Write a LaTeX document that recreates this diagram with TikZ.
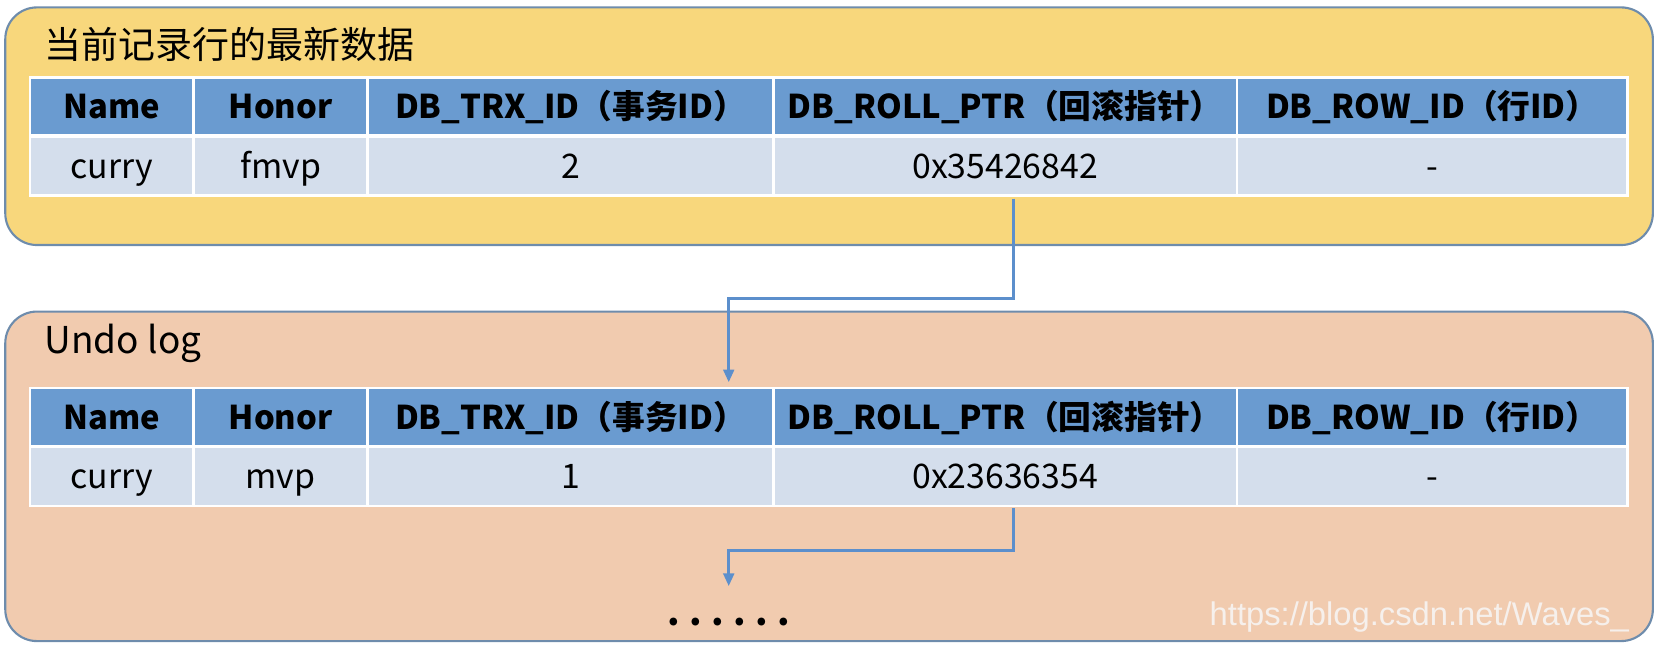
\documentclass[tikz,border=0pt]{standalone}
\usepackage{fontspec}
\setmainfont{Noto Sans CJK SC}
\newfontfamily\urlfont{Liberation Sans}
\usetikzlibrary{arrows.meta}

\definecolor{boxline}{RGB}{110,140,172}
\definecolor{newfill}{RGB}{248,215,124}
\definecolor{undofill}{RGB}{241,203,175}
\definecolor{headfill}{RGB}{106,155,208}
\definecolor{cellfill}{RGB}{212,222,236}
\definecolor{ptrline}{RGB}{92,143,204}
\definecolor{markgray}{RGB}{246,240,236}

\tikzset{
  panel/.style={draw=boxline, line width=1pt, rounded corners=15pt},
  panelname/.style={anchor=west, inner sep=0pt, font=\fontsize{17.5}{20}\selectfont},
  cell/.style={anchor=north west, inner sep=0pt, draw=white, line width=1.2pt,
    text height=11.5pt, text depth=0pt, font=\fontsize{16}{19}\selectfont},
  headcell/.style={cell, fill=headfill, minimum height=27.5pt, font=\fontsize{15.5}{19}\selectfont\bfseries},
  datacell/.style={cell, fill=cellfill, minimum height=28pt},
  ptr/.style={draw=ptrline, line width=1.4pt, -{Triangle[length=6pt,width=5pt]}}
}

\begin{document}
\begin{tikzpicture}[x=0.5pt,y=-0.5pt]
    \useasboundingbox (0,0) rectangle (1568,612);

    % current row
    \draw[panel, fill=newfill] (5,7) rectangle (1565,232);
    \node[panelname] (newname) at (42,42) {当前记录行的最新数据};

    \node[headcell, minimum width=77.5pt] (tH-a) at (27,72) {Name};
    \node[headcell, minimum width=82.5pt] (tH-b) at (182,72) {Honor};
    \node[headcell, minimum width=192pt] (tH-c) at (347,72) {DB\_TRX\_ID（事务ID）};
    \node[headcell, minimum width=219.5pt] (tH-d) at (731,72) {DB\_ROLL\_PTR（回滚指针）};
    \node[headcell, minimum width=185pt] (tH-e) at (1170,72) {DB\_ROW\_ID（行ID）};

    \node[datacell, minimum width=77.5pt] (tD-a) at (27,128) {curry};
    \node[datacell, minimum width=82.5pt] (tD-b) at (182,128) {fmvp};
    \node[datacell, minimum width=192pt] (tD-c) at (347,128) {2};
    \node[datacell, minimum width=219.5pt] (tD-d) at (731,128) {0x35426842};
    \node[datacell, minimum width=185pt] (tD-e) at (1170,128) {-};

    % undo log
    \draw[panel, fill=undofill] (5,295) rectangle (1565,607);
    \node[panelname] (undoname) at (42,325) {Undo log};

    \node[headcell, minimum width=77.5pt] (uH-a) at (27,366) {Name};
    \node[headcell, minimum width=82.5pt] (uH-b) at (182,366) {Honor};
    \node[headcell, minimum width=192pt] (uH-c) at (347,366) {DB\_TRX\_ID（事务ID）};
    \node[headcell, minimum width=219.5pt] (uH-d) at (731,366) {DB\_ROLL\_PTR（回滚指针）};
    \node[headcell, minimum width=185pt] (uH-e) at (1170,366) {DB\_ROW\_ID（行ID）};

    \node[datacell, minimum width=77.5pt] (uD-a) at (27,422) {curry};
    \node[datacell, minimum width=82.5pt] (uD-b) at (182,422) {mvp};
    \node[datacell, minimum width=192pt] (uD-c) at (347,422) {1};
    \node[datacell, minimum width=219.5pt] (uD-d) at (731,422) {0x23636354};
    \node[datacell, minimum width=185pt] (uD-e) at (1170,422) {-};

    \node[anchor=base, inner sep=0pt, font=\fontsize{17}{20}\selectfont\bfseries] (more) at (690,592)
        {.\kern4.5pt.\kern4.5pt.\kern4.5pt.\kern4.5pt.\kern4.5pt.};
    \node[anchor=base west, inner sep=0pt, text=markgray, font=\urlfont\fontsize{15.5}{18}\selectfont] (mark)
        at (1145,592) {https://blog.csdn.net/Waves\_};

    % roll pointers
    \coordinate (ptrA) at (960,188);
    \coordinate (undoIn) at (690,362);
    \coordinate (ptrB) at (960,481);
    \coordinate (nextIn) at (690,555);
    \draw[ptr] (ptrA) -- ++(0,95) -| (undoIn);
    \draw[ptr] (ptrB) -- ++(0,40) -| (nextIn);
\end{tikzpicture}
\end{document}
